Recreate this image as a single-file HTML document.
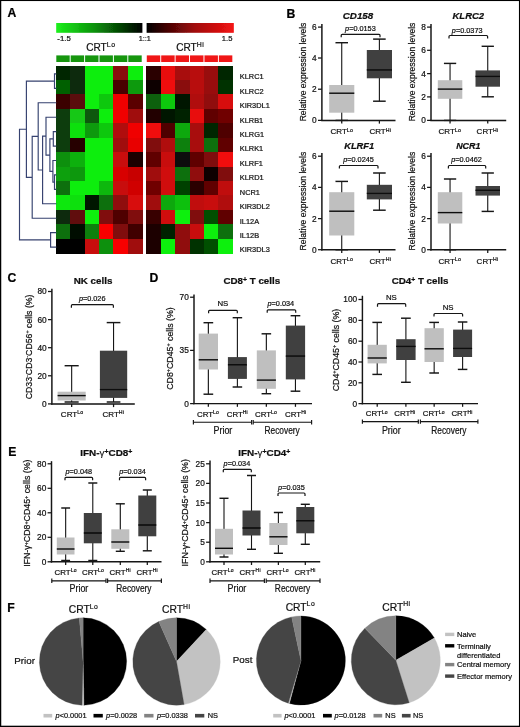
<!DOCTYPE html>
<html><head><meta charset="utf-8"><title>Figure</title>
<style>html,body{margin:0;padding:0;background:#fff;}body{width:520px;height:727px;overflow:hidden;font-family:"Liberation Sans",sans-serif;}svg{display:block;font-family:"Liberation Sans",sans-serif;}</style>
</head><body>
<svg width="520" height="727" viewBox="0 0 520 727">
<defs>
<linearGradient id="gG" x1="0" x2="1" y1="0" y2="0"><stop offset="0" stop-color="#1cf01c"/><stop offset="0.45" stop-color="#0a900a"/><stop offset="1" stop-color="#000"/></linearGradient>
<linearGradient id="gR" x1="0" x2="1" y1="0" y2="0"><stop offset="0" stop-color="#000"/><stop offset="0.55" stop-color="#a00a0a"/><stop offset="1" stop-color="#f41414"/></linearGradient>
<filter id="soft" x="-2%" y="-2%" width="104%" height="104%"><feGaussianBlur stdDeviation="0.45"/></filter>
<filter id="soft2" x="0" y="0" width="100%" height="100%" filterUnits="userSpaceOnUse"><feGaussianBlur stdDeviation="0.32"/></filter>
</defs>
<rect x="0.00" y="0.00" width="520.00" height="727.00" fill="#ffffff"/>
<g filter="url(#soft2)">
<text transform="translate(7.60,17.20)" font-size="12.2" text-anchor="start" font-weight="bold" font-style="normal" fill="#000" stroke="#000" stroke-width="0.22" >A</text>
<text transform="translate(286.60,17.60)" font-size="12.2" text-anchor="start" font-weight="bold" font-style="normal" fill="#000" stroke="#000" stroke-width="0.22" >B</text>
<text transform="translate(7.40,281.60)" font-size="12.2" text-anchor="start" font-weight="bold" font-style="normal" fill="#000" stroke="#000" stroke-width="0.22" >C</text>
<text transform="translate(149.40,281.80)" font-size="12.2" text-anchor="start" font-weight="bold" font-style="normal" fill="#000" stroke="#000" stroke-width="0.22" >D</text>
<text transform="translate(8.30,455.80)" font-size="12.2" text-anchor="start" font-weight="bold" font-style="normal" fill="#000" stroke="#000" stroke-width="0.22" >E</text>
<text transform="translate(7.20,612.40)" font-size="12.2" text-anchor="start" font-weight="bold" font-style="normal" fill="#000" stroke="#000" stroke-width="0.22" >F</text>
<g shape-rendering="crispEdges" filter="url(#soft)">
<rect x="55.80" y="65.60" width="14.70" height="14.73" fill="#062806"/>
<rect x="70.20" y="65.60" width="14.70" height="14.73" fill="#0a2a0a"/>
<rect x="84.60" y="65.60" width="14.70" height="14.73" fill="#08ee08"/>
<rect x="99.00" y="65.60" width="14.70" height="14.73" fill="#0cee0c"/>
<rect x="113.40" y="65.60" width="14.70" height="14.73" fill="#8a0a0a"/>
<rect x="127.80" y="65.60" width="14.70" height="14.73" fill="#08ee08"/>
<rect x="55.80" y="80.03" width="14.70" height="14.73" fill="#066006"/>
<rect x="70.20" y="80.03" width="14.70" height="14.73" fill="#0a2a0a"/>
<rect x="84.60" y="80.03" width="14.70" height="14.73" fill="#08ee08"/>
<rect x="99.00" y="80.03" width="14.70" height="14.73" fill="#0cee0c"/>
<rect x="113.40" y="80.03" width="14.70" height="14.73" fill="#4a0505"/>
<rect x="127.80" y="80.03" width="14.70" height="14.73" fill="#0a9a0a"/>
<rect x="55.80" y="94.46" width="14.70" height="14.73" fill="#3a0505"/>
<rect x="70.20" y="94.46" width="14.70" height="14.73" fill="#5a0808"/>
<rect x="84.60" y="94.46" width="14.70" height="14.73" fill="#08ee08"/>
<rect x="99.00" y="94.46" width="14.70" height="14.73" fill="#10c810"/>
<rect x="113.40" y="94.46" width="14.70" height="14.73" fill="#f00404"/>
<rect x="127.80" y="94.46" width="14.70" height="14.73" fill="#5a0505"/>
<rect x="55.80" y="108.89" width="14.70" height="14.73" fill="#0a3c0a"/>
<rect x="70.20" y="108.89" width="14.70" height="14.73" fill="#14c814"/>
<rect x="84.60" y="108.89" width="14.70" height="14.73" fill="#085808"/>
<rect x="99.00" y="108.89" width="14.70" height="14.73" fill="#08ee08"/>
<rect x="113.40" y="108.89" width="14.70" height="14.73" fill="#f00404"/>
<rect x="127.80" y="108.89" width="14.70" height="14.73" fill="#a00a0a"/>
<rect x="55.80" y="123.32" width="14.70" height="14.73" fill="#0a3c0a"/>
<rect x="70.20" y="123.32" width="14.70" height="14.73" fill="#10e010"/>
<rect x="84.60" y="123.32" width="14.70" height="14.73" fill="#0a9a0a"/>
<rect x="99.00" y="123.32" width="14.70" height="14.73" fill="#10c810"/>
<rect x="113.40" y="123.32" width="14.70" height="14.73" fill="#b00a0a"/>
<rect x="127.80" y="123.32" width="14.70" height="14.73" fill="#f00404"/>
<rect x="55.80" y="137.75" width="14.70" height="14.73" fill="#0a3c0a"/>
<rect x="70.20" y="137.75" width="14.70" height="14.73" fill="#280505"/>
<rect x="84.60" y="137.75" width="14.70" height="14.73" fill="#08ee08"/>
<rect x="99.00" y="137.75" width="14.70" height="14.73" fill="#08ee08"/>
<rect x="113.40" y="137.75" width="14.70" height="14.73" fill="#a00808"/>
<rect x="127.80" y="137.75" width="14.70" height="14.73" fill="#e80404"/>
<rect x="55.80" y="152.18" width="14.70" height="14.73" fill="#0a900a"/>
<rect x="70.20" y="152.18" width="14.70" height="14.73" fill="#10b010"/>
<rect x="84.60" y="152.18" width="14.70" height="14.73" fill="#08ee08"/>
<rect x="99.00" y="152.18" width="14.70" height="14.73" fill="#08ee08"/>
<rect x="113.40" y="152.18" width="14.70" height="14.73" fill="#c80808"/>
<rect x="127.80" y="152.18" width="14.70" height="14.73" fill="#1a0505"/>
<rect x="55.80" y="166.62" width="14.70" height="14.73" fill="#0aa00a"/>
<rect x="70.20" y="166.62" width="14.70" height="14.73" fill="#0a980a"/>
<rect x="84.60" y="166.62" width="14.70" height="14.73" fill="#08ee08"/>
<rect x="99.00" y="166.62" width="14.70" height="14.73" fill="#08ee08"/>
<rect x="113.40" y="166.62" width="14.70" height="14.73" fill="#d80404"/>
<rect x="127.80" y="166.62" width="14.70" height="14.73" fill="#c80404"/>
<rect x="55.80" y="181.05" width="14.70" height="14.73" fill="#0a700a"/>
<rect x="70.20" y="181.05" width="14.70" height="14.73" fill="#08ee08"/>
<rect x="84.60" y="181.05" width="14.70" height="14.73" fill="#08ee08"/>
<rect x="99.00" y="181.05" width="14.70" height="14.73" fill="#10b810"/>
<rect x="113.40" y="181.05" width="14.70" height="14.73" fill="#c80808"/>
<rect x="127.80" y="181.05" width="14.70" height="14.73" fill="#d00404"/>
<rect x="55.80" y="195.48" width="14.70" height="14.73" fill="#08e808"/>
<rect x="70.20" y="195.48" width="14.70" height="14.73" fill="#08e008"/>
<rect x="84.60" y="195.48" width="14.70" height="14.73" fill="#051405"/>
<rect x="99.00" y="195.48" width="14.70" height="14.73" fill="#0a700a"/>
<rect x="113.40" y="195.48" width="14.70" height="14.73" fill="#900808"/>
<rect x="127.80" y="195.48" width="14.70" height="14.73" fill="#d80808"/>
<rect x="55.80" y="209.91" width="14.70" height="14.73" fill="#0a2a0a"/>
<rect x="70.20" y="209.91" width="14.70" height="14.73" fill="#600808"/>
<rect x="84.60" y="209.91" width="14.70" height="14.73" fill="#08f008"/>
<rect x="99.00" y="209.91" width="14.70" height="14.73" fill="#800808"/>
<rect x="113.40" y="209.91" width="14.70" height="14.73" fill="#500505"/>
<rect x="127.80" y="209.91" width="14.70" height="14.73" fill="#800808"/>
<rect x="55.80" y="224.34" width="14.70" height="14.73" fill="#0a700a"/>
<rect x="70.20" y="224.34" width="14.70" height="14.73" fill="#031003"/>
<rect x="84.60" y="224.34" width="14.70" height="14.73" fill="#0a800a"/>
<rect x="99.00" y="224.34" width="14.70" height="14.73" fill="#f80404"/>
<rect x="113.40" y="224.34" width="14.70" height="14.73" fill="#800808"/>
<rect x="127.80" y="224.34" width="14.70" height="14.73" fill="#400505"/>
<rect x="55.80" y="238.77" width="14.70" height="14.73" fill="#020202"/>
<rect x="70.20" y="238.77" width="14.70" height="14.73" fill="#020202"/>
<rect x="84.60" y="238.77" width="14.70" height="14.73" fill="#c80808"/>
<rect x="99.00" y="238.77" width="14.70" height="14.73" fill="#0a900a"/>
<rect x="113.40" y="238.77" width="14.70" height="14.73" fill="#f80404"/>
<rect x="127.80" y="238.77" width="14.70" height="14.73" fill="#a00808"/>
<rect x="146.30" y="65.60" width="14.72" height="14.73" fill="#2a0303"/>
<rect x="160.72" y="65.60" width="14.72" height="14.73" fill="#e80808"/>
<rect x="175.13" y="65.60" width="14.72" height="14.73" fill="#a80808"/>
<rect x="189.55" y="65.60" width="14.72" height="14.73" fill="#b80808"/>
<rect x="203.97" y="65.60" width="14.72" height="14.73" fill="#980808"/>
<rect x="218.38" y="65.60" width="14.72" height="14.73" fill="#062806"/>
<rect x="146.30" y="80.03" width="14.72" height="14.73" fill="#100202"/>
<rect x="160.72" y="80.03" width="14.72" height="14.73" fill="#f00808"/>
<rect x="175.13" y="80.03" width="14.72" height="14.73" fill="#8a0808"/>
<rect x="189.55" y="80.03" width="14.72" height="14.73" fill="#b80808"/>
<rect x="203.97" y="80.03" width="14.72" height="14.73" fill="#980808"/>
<rect x="218.38" y="80.03" width="14.72" height="14.73" fill="#063006"/>
<rect x="146.30" y="94.46" width="14.72" height="14.73" fill="#086008"/>
<rect x="160.72" y="94.46" width="14.72" height="14.73" fill="#08c808"/>
<rect x="175.13" y="94.46" width="14.72" height="14.73" fill="#031803"/>
<rect x="189.55" y="94.46" width="14.72" height="14.73" fill="#b00808"/>
<rect x="203.97" y="94.46" width="14.72" height="14.73" fill="#900808"/>
<rect x="218.38" y="94.46" width="14.72" height="14.73" fill="#d80808"/>
<rect x="146.30" y="108.89" width="14.72" height="14.73" fill="#200303"/>
<rect x="160.72" y="108.89" width="14.72" height="14.73" fill="#031803"/>
<rect x="175.13" y="108.89" width="14.72" height="14.73" fill="#052005"/>
<rect x="189.55" y="108.89" width="14.72" height="14.73" fill="#e80808"/>
<rect x="203.97" y="108.89" width="14.72" height="14.73" fill="#600505"/>
<rect x="218.38" y="108.89" width="14.72" height="14.73" fill="#700505"/>
<rect x="146.30" y="123.32" width="14.72" height="14.73" fill="#f00808"/>
<rect x="160.72" y="123.32" width="14.72" height="14.73" fill="#500505"/>
<rect x="175.13" y="123.32" width="14.72" height="14.73" fill="#08a808"/>
<rect x="189.55" y="123.32" width="14.72" height="14.73" fill="#a80808"/>
<rect x="203.97" y="123.32" width="14.72" height="14.73" fill="#052805"/>
<rect x="218.38" y="123.32" width="14.72" height="14.73" fill="#500505"/>
<rect x="146.30" y="137.75" width="14.72" height="14.73" fill="#800808"/>
<rect x="160.72" y="137.75" width="14.72" height="14.73" fill="#b00808"/>
<rect x="175.13" y="137.75" width="14.72" height="14.73" fill="#088008"/>
<rect x="189.55" y="137.75" width="14.72" height="14.73" fill="#a80808"/>
<rect x="203.97" y="137.75" width="14.72" height="14.73" fill="#087008"/>
<rect x="218.38" y="137.75" width="14.72" height="14.73" fill="#600505"/>
<rect x="146.30" y="152.18" width="14.72" height="14.73" fill="#600505"/>
<rect x="160.72" y="152.18" width="14.72" height="14.73" fill="#c80808"/>
<rect x="175.13" y="152.18" width="14.72" height="14.73" fill="#080808"/>
<rect x="189.55" y="152.18" width="14.72" height="14.73" fill="#600505"/>
<rect x="203.97" y="152.18" width="14.72" height="14.73" fill="#800808"/>
<rect x="218.38" y="152.18" width="14.72" height="14.73" fill="#f00808"/>
<rect x="146.30" y="166.62" width="14.72" height="14.73" fill="#a00808"/>
<rect x="160.72" y="166.62" width="14.72" height="14.73" fill="#d00808"/>
<rect x="175.13" y="166.62" width="14.72" height="14.73" fill="#087008"/>
<rect x="189.55" y="166.62" width="14.72" height="14.73" fill="#900808"/>
<rect x="203.97" y="166.62" width="14.72" height="14.73" fill="#0a0303"/>
<rect x="218.38" y="166.62" width="14.72" height="14.73" fill="#800808"/>
<rect x="146.30" y="181.05" width="14.72" height="14.73" fill="#700505"/>
<rect x="160.72" y="181.05" width="14.72" height="14.73" fill="#d00808"/>
<rect x="175.13" y="181.05" width="14.72" height="14.73" fill="#064006"/>
<rect x="189.55" y="181.05" width="14.72" height="14.73" fill="#2a0303"/>
<rect x="203.97" y="181.05" width="14.72" height="14.73" fill="#600505"/>
<rect x="218.38" y="181.05" width="14.72" height="14.73" fill="#c00808"/>
<rect x="146.30" y="195.48" width="14.72" height="14.73" fill="#a00808"/>
<rect x="160.72" y="195.48" width="14.72" height="14.73" fill="#08a808"/>
<rect x="175.13" y="195.48" width="14.72" height="14.73" fill="#08c008"/>
<rect x="189.55" y="195.48" width="14.72" height="14.73" fill="#c00808"/>
<rect x="203.97" y="195.48" width="14.72" height="14.73" fill="#c80808"/>
<rect x="218.38" y="195.48" width="14.72" height="14.73" fill="#b00808"/>
<rect x="146.30" y="209.91" width="14.72" height="14.73" fill="#380303"/>
<rect x="160.72" y="209.91" width="14.72" height="14.73" fill="#d00808"/>
<rect x="175.13" y="209.91" width="14.72" height="14.73" fill="#08f008"/>
<rect x="189.55" y="209.91" width="14.72" height="14.73" fill="#800808"/>
<rect x="203.97" y="209.91" width="14.72" height="14.73" fill="#065006"/>
<rect x="218.38" y="209.91" width="14.72" height="14.73" fill="#600505"/>
<rect x="146.30" y="224.34" width="14.72" height="14.73" fill="#1c0202"/>
<rect x="160.72" y="224.34" width="14.72" height="14.73" fill="#052005"/>
<rect x="175.13" y="224.34" width="14.72" height="14.73" fill="#900808"/>
<rect x="189.55" y="224.34" width="14.72" height="14.73" fill="#c80808"/>
<rect x="203.97" y="224.34" width="14.72" height="14.73" fill="#08f008"/>
<rect x="218.38" y="224.34" width="14.72" height="14.73" fill="#087008"/>
<rect x="146.30" y="238.77" width="14.72" height="14.73" fill="#1c0202"/>
<rect x="160.72" y="238.77" width="14.72" height="14.73" fill="#08f008"/>
<rect x="175.13" y="238.77" width="14.72" height="14.73" fill="#900808"/>
<rect x="189.55" y="238.77" width="14.72" height="14.73" fill="#063006"/>
<rect x="203.97" y="238.77" width="14.72" height="14.73" fill="#065006"/>
<rect x="218.38" y="238.77" width="14.72" height="14.73" fill="#08f008"/>
</g>
<rect x="56.20" y="23.00" width="86.20" height="9.80" fill="url(#gG)"/>
<rect x="146.60" y="23.00" width="87.20" height="9.80" fill="url(#gR)"/>
<rect x="56.30" y="55.40" width="13.40" height="6.60" fill="#12960f"/>
<rect x="146.80" y="55.40" width="13.42" height="6.60" fill="#f01212"/>
<rect x="70.70" y="55.40" width="13.40" height="6.60" fill="#12960f"/>
<rect x="161.22" y="55.40" width="13.42" height="6.60" fill="#f01212"/>
<rect x="85.10" y="55.40" width="13.40" height="6.60" fill="#12960f"/>
<rect x="175.63" y="55.40" width="13.42" height="6.60" fill="#f01212"/>
<rect x="99.50" y="55.40" width="13.40" height="6.60" fill="#12960f"/>
<rect x="190.05" y="55.40" width="13.42" height="6.60" fill="#f01212"/>
<rect x="113.90" y="55.40" width="13.40" height="6.60" fill="#12960f"/>
<rect x="204.47" y="55.40" width="13.42" height="6.60" fill="#f01212"/>
<rect x="128.30" y="55.40" width="13.40" height="6.60" fill="#12960f"/>
<rect x="218.88" y="55.40" width="13.42" height="6.60" fill="#f01212"/>
<text transform="translate(57.30,40.50)" font-size="7.8" text-anchor="start" font-weight="normal" font-style="normal" fill="#141414" stroke="#141414" stroke-width="0.22" >-1.5</text>
<text transform="translate(144.70,40.50)" font-size="7.2" text-anchor="middle" font-weight="normal" font-style="normal" fill="#141414" stroke="#141414" stroke-width="0.22" >1::1</text>
<text transform="translate(232.40,40.50)" font-size="7.6" text-anchor="end" font-weight="normal" font-style="normal" fill="#141414" stroke="#141414" stroke-width="0.22" >1.5</text>
<text transform="translate(100.90,51.00)" font-size="10.1" text-anchor="middle" font-weight="normal" font-style="normal" fill="#141414" stroke="#141414" stroke-width="0.22" >CRT<tspan font-size="6.9" dy="-4.04" letter-spacing="0.6">Lo</tspan></text>
<text transform="translate(190.30,51.00)" font-size="10.1" text-anchor="middle" font-weight="normal" font-style="normal" fill="#141414" stroke="#141414" stroke-width="0.22" >CRT<tspan font-size="6.9" dy="-4.04" letter-spacing="0.6">Hi</tspan></text>
<text transform="translate(239.80,79.30)" font-size="7.4" text-anchor="start" font-weight="normal" font-style="normal" fill="#141414" stroke="#141414" stroke-width="0.22" >KLRC1</text>
<text transform="translate(239.80,93.73)" font-size="7.4" text-anchor="start" font-weight="normal" font-style="normal" fill="#141414" stroke="#141414" stroke-width="0.22" >KLRC2</text>
<text transform="translate(239.80,108.16)" font-size="7.4" text-anchor="start" font-weight="normal" font-style="normal" fill="#141414" stroke="#141414" stroke-width="0.22" >KIR3DL1</text>
<text transform="translate(239.80,122.59)" font-size="7.4" text-anchor="start" font-weight="normal" font-style="normal" fill="#141414" stroke="#141414" stroke-width="0.22" >KLRB1</text>
<text transform="translate(239.80,137.02)" font-size="7.4" text-anchor="start" font-weight="normal" font-style="normal" fill="#141414" stroke="#141414" stroke-width="0.22" >KLRG1</text>
<text transform="translate(239.80,151.45)" font-size="7.4" text-anchor="start" font-weight="normal" font-style="normal" fill="#141414" stroke="#141414" stroke-width="0.22" >KLRK1</text>
<text transform="translate(239.80,165.88)" font-size="7.4" text-anchor="start" font-weight="normal" font-style="normal" fill="#141414" stroke="#141414" stroke-width="0.22" >KLRF1</text>
<text transform="translate(239.80,180.32)" font-size="7.4" text-anchor="start" font-weight="normal" font-style="normal" fill="#141414" stroke="#141414" stroke-width="0.22" >KLRD1</text>
<text transform="translate(239.80,194.75)" font-size="7.4" text-anchor="start" font-weight="normal" font-style="normal" fill="#141414" stroke="#141414" stroke-width="0.22" >NCR1</text>
<text transform="translate(239.80,209.18)" font-size="7.4" text-anchor="start" font-weight="normal" font-style="normal" fill="#141414" stroke="#141414" stroke-width="0.22" >KIR3DL2</text>
<text transform="translate(239.80,223.61)" font-size="7.4" text-anchor="start" font-weight="normal" font-style="normal" fill="#141414" stroke="#141414" stroke-width="0.22" >IL12A</text>
<text transform="translate(239.80,238.04)" font-size="7.4" text-anchor="start" font-weight="normal" font-style="normal" fill="#141414" stroke="#141414" stroke-width="0.22" >IL12B</text>
<text transform="translate(239.80,252.47)" font-size="7.4" text-anchor="start" font-weight="normal" font-style="normal" fill="#141414" stroke="#141414" stroke-width="0.22" >KIR3DL3</text>
<path d="M54.50 73.92L54.50 88.35 M54.50 73.92L55.80 73.92 M54.50 88.35L55.80 88.35 M26.40 81.13L54.50 81.13 M53.30 131.64L53.30 146.07 M53.30 131.64L55.80 131.64 M53.30 146.07L55.80 146.07 M54.50 174.93L54.50 189.36 M54.50 174.93L55.80 174.93 M54.50 189.36L55.80 189.36 M52.90 160.50L52.90 182.15 M52.90 160.50L55.80 160.50 M52.90 182.15L54.50 182.15 M49.90 138.85L49.90 171.32 M49.90 138.85L53.30 138.85 M49.90 171.32L52.90 171.32 M46.00 117.21L46.00 155.09 M46.00 117.21L55.80 117.21 M46.00 155.09L49.90 155.09 M42.60 136.15L42.60 203.79 M42.60 136.15L46.00 136.15 M42.60 203.79L55.80 203.79 M38.20 102.78L38.20 169.97 M38.20 102.78L55.80 102.78 M38.20 169.97L42.60 169.97 M32.20 136.37L32.20 218.22 M32.20 136.37L38.20 136.37 M32.20 218.22L55.80 218.22 M26.40 81.13L26.40 177.30 M26.40 177.30L32.20 177.30 M50.60 232.65L50.60 247.08 M50.60 232.65L55.80 232.65 M50.60 247.08L55.80 247.08 M19.50 129.21L19.50 239.87 M19.50 129.21L26.40 129.21 M19.50 239.87L50.60 239.87" stroke="#36426f" stroke-width="1.15" fill="none" stroke-linecap="square"/>
<text transform="translate(358.00,18.90) scale(1.05,1)" font-size="9.3" text-anchor="middle" font-weight="bold" font-style="italic" fill="#111" stroke="#111" stroke-width="0.22" >CD158</text>
<line x1="321.90" y1="24.00" x2="321.90" y2="121.12" stroke="#141414" stroke-width="1.45" stroke-linecap="butt"/>
<line x1="321.17" y1="120.40" x2="395.50" y2="120.40" stroke="#141414" stroke-width="1.45" stroke-linecap="butt"/>
<line x1="317.97" y1="27.10" x2="321.90" y2="27.10" stroke="#141414" stroke-width="1.25" stroke-linecap="butt"/>
<text transform="translate(316.70,30.09)" font-size="8.3" text-anchor="end" font-weight="normal" font-style="normal" fill="#141414" stroke="#141414" stroke-width="0.22" >6</text>
<line x1="317.97" y1="58.00" x2="321.90" y2="58.00" stroke="#141414" stroke-width="1.25" stroke-linecap="butt"/>
<text transform="translate(316.70,60.99)" font-size="8.3" text-anchor="end" font-weight="normal" font-style="normal" fill="#141414" stroke="#141414" stroke-width="0.22" >4</text>
<line x1="317.97" y1="89.20" x2="321.90" y2="89.20" stroke="#141414" stroke-width="1.25" stroke-linecap="butt"/>
<text transform="translate(316.70,92.19)" font-size="8.3" text-anchor="end" font-weight="normal" font-style="normal" fill="#141414" stroke="#141414" stroke-width="0.22" >2</text>
<line x1="317.97" y1="120.40" x2="321.90" y2="120.40" stroke="#141414" stroke-width="1.25" stroke-linecap="butt"/>
<text transform="translate(316.70,123.39)" font-size="8.3" text-anchor="end" font-weight="normal" font-style="normal" fill="#141414" stroke="#141414" stroke-width="0.22" >0</text>
<text transform="translate(305.50,72.00) rotate(-90) scale(0.872,1)" font-size="9.8" text-anchor="middle" font-weight="normal" font-style="normal" fill="#141414" stroke="#141414" stroke-width="0.22" >Relative expression levels</text>
<line x1="341.75" y1="120.40" x2="341.75" y2="123.60" stroke="#141414" stroke-width="1.25" stroke-linecap="butt"/>
<line x1="379.40" y1="120.40" x2="379.40" y2="123.60" stroke="#141414" stroke-width="1.25" stroke-linecap="butt"/>
<line x1="341.75" y1="42.70" x2="341.75" y2="120.40" stroke="#141414" stroke-width="1.1" stroke-linecap="butt"/>
<line x1="335.48" y1="42.70" x2="348.02" y2="42.70" stroke="#141414" stroke-width="1.4500000000000002" stroke-linecap="butt"/>
<line x1="335.48" y1="120.40" x2="348.02" y2="120.40" stroke="#141414" stroke-width="1.4500000000000002" stroke-linecap="butt"/>
<rect x="329.20" y="85.00" width="25.10" height="27.70" fill="#bfbfbf"/>
<line x1="329.20" y1="93.20" x2="354.30" y2="93.20" stroke="#0a0a0a" stroke-width="1.4" stroke-linecap="butt"/>
<line x1="379.40" y1="39.10" x2="379.40" y2="101.20" stroke="#141414" stroke-width="1.1" stroke-linecap="butt"/>
<line x1="373.10" y1="39.10" x2="385.70" y2="39.10" stroke="#141414" stroke-width="1.4500000000000002" stroke-linecap="butt"/>
<line x1="373.10" y1="101.20" x2="385.70" y2="101.20" stroke="#141414" stroke-width="1.4500000000000002" stroke-linecap="butt"/>
<rect x="366.80" y="50.00" width="25.20" height="28.30" fill="#404040"/>
<line x1="366.80" y1="69.90" x2="392.00" y2="69.90" stroke="#0a0a0a" stroke-width="1.4" stroke-linecap="butt"/>
<path d="M341.20 37.30 L341.20 35.30 Q341.20 34.30 342.20 34.30 L379.00 34.30 Q380.00 34.30 380.00 35.30 L380.00 37.30" stroke="#141414" stroke-width="1.2" fill="none" stroke-linejoin="miter"/>
<text transform="translate(360.40,31.40)" font-size="7.3" text-anchor="middle" font-weight="normal" font-style="normal" fill="#141414" stroke="#141414" stroke-width="0.22" ><tspan font-style="italic">p</tspan>=0.0153</text>
<text transform="translate(341.80,134.00)" font-size="8.0" text-anchor="middle" font-weight="normal" font-style="normal" fill="#141414" stroke="#141414" stroke-width="0.22" >CRT<tspan font-size="5.2" dy="-2.40" letter-spacing="0.3">Lo</tspan></text>
<text transform="translate(380.30,134.00)" font-size="8.0" text-anchor="middle" font-weight="normal" font-style="normal" fill="#141414" stroke="#141414" stroke-width="0.22" >CRT<tspan font-size="5.2" dy="-2.40" letter-spacing="0.3">Hi</tspan></text>
<text transform="translate(468.30,18.90) scale(1.02,1)" font-size="9.3" text-anchor="middle" font-weight="bold" font-style="italic" fill="#111" stroke="#111" stroke-width="0.22" >KLRC2</text>
<line x1="431.00" y1="24.00" x2="431.00" y2="121.12" stroke="#141414" stroke-width="1.45" stroke-linecap="butt"/>
<line x1="430.27" y1="120.40" x2="506.20" y2="120.40" stroke="#141414" stroke-width="1.45" stroke-linecap="butt"/>
<line x1="427.07" y1="27.10" x2="431.00" y2="27.10" stroke="#141414" stroke-width="1.25" stroke-linecap="butt"/>
<text transform="translate(425.80,30.09)" font-size="8.3" text-anchor="end" font-weight="normal" font-style="normal" fill="#141414" stroke="#141414" stroke-width="0.22" >8</text>
<line x1="427.07" y1="50.30" x2="431.00" y2="50.30" stroke="#141414" stroke-width="1.25" stroke-linecap="butt"/>
<text transform="translate(425.80,53.29)" font-size="8.3" text-anchor="end" font-weight="normal" font-style="normal" fill="#141414" stroke="#141414" stroke-width="0.22" >6</text>
<line x1="427.07" y1="73.60" x2="431.00" y2="73.60" stroke="#141414" stroke-width="1.25" stroke-linecap="butt"/>
<text transform="translate(425.80,76.59)" font-size="8.3" text-anchor="end" font-weight="normal" font-style="normal" fill="#141414" stroke="#141414" stroke-width="0.22" >4</text>
<line x1="427.07" y1="96.90" x2="431.00" y2="96.90" stroke="#141414" stroke-width="1.25" stroke-linecap="butt"/>
<text transform="translate(425.80,99.89)" font-size="8.3" text-anchor="end" font-weight="normal" font-style="normal" fill="#141414" stroke="#141414" stroke-width="0.22" >2</text>
<line x1="427.07" y1="120.40" x2="431.00" y2="120.40" stroke="#141414" stroke-width="1.25" stroke-linecap="butt"/>
<text transform="translate(425.80,123.39)" font-size="8.3" text-anchor="end" font-weight="normal" font-style="normal" fill="#141414" stroke="#141414" stroke-width="0.22" >0</text>
<text transform="translate(414.80,72.00) rotate(-90) scale(0.872,1)" font-size="9.8" text-anchor="middle" font-weight="normal" font-style="normal" fill="#141414" stroke="#141414" stroke-width="0.22" >Relative expression levels</text>
<line x1="450.05" y1="120.40" x2="450.05" y2="123.60" stroke="#141414" stroke-width="1.25" stroke-linecap="butt"/>
<line x1="487.75" y1="120.40" x2="487.75" y2="123.60" stroke="#141414" stroke-width="1.25" stroke-linecap="butt"/>
<line x1="450.05" y1="63.40" x2="450.05" y2="120.40" stroke="#141414" stroke-width="1.1" stroke-linecap="butt"/>
<line x1="443.93" y1="63.40" x2="456.18" y2="63.40" stroke="#141414" stroke-width="1.4500000000000002" stroke-linecap="butt"/>
<line x1="443.93" y1="120.40" x2="456.18" y2="120.40" stroke="#141414" stroke-width="1.4500000000000002" stroke-linecap="butt"/>
<rect x="437.80" y="80.20" width="24.50" height="18.60" fill="#bfbfbf"/>
<line x1="437.80" y1="89.10" x2="462.30" y2="89.10" stroke="#0a0a0a" stroke-width="1.4" stroke-linecap="butt"/>
<line x1="487.75" y1="46.30" x2="487.75" y2="96.80" stroke="#141414" stroke-width="1.1" stroke-linecap="butt"/>
<line x1="481.62" y1="46.30" x2="493.88" y2="46.30" stroke="#141414" stroke-width="1.4500000000000002" stroke-linecap="butt"/>
<line x1="481.62" y1="96.80" x2="493.88" y2="96.80" stroke="#141414" stroke-width="1.4500000000000002" stroke-linecap="butt"/>
<rect x="475.50" y="70.40" width="24.50" height="16.30" fill="#404040"/>
<line x1="475.50" y1="76.40" x2="500.00" y2="76.40" stroke="#0a0a0a" stroke-width="1.4" stroke-linecap="butt"/>
<path d="M449.00 38.50 L449.00 36.50 Q449.00 35.50 450.00 35.50 L486.60 35.50 Q487.60 35.50 487.60 36.50 L487.60 38.50" stroke="#141414" stroke-width="1.2" fill="none" stroke-linejoin="miter"/>
<text transform="translate(467.20,32.50)" font-size="7.3" text-anchor="middle" font-weight="normal" font-style="normal" fill="#141414" stroke="#141414" stroke-width="0.22" ><tspan font-style="italic">p</tspan>=0.0373</text>
<text transform="translate(449.80,134.00)" font-size="8.0" text-anchor="middle" font-weight="normal" font-style="normal" fill="#141414" stroke="#141414" stroke-width="0.22" >CRT<tspan font-size="5.2" dy="-2.40" letter-spacing="0.3">Lo</tspan></text>
<text transform="translate(487.50,134.00)" font-size="8.0" text-anchor="middle" font-weight="normal" font-style="normal" fill="#141414" stroke="#141414" stroke-width="0.22" >CRT<tspan font-size="5.2" dy="-2.40" letter-spacing="0.3">Hi</tspan></text>
<text transform="translate(359.20,148.90) scale(1.0,1)" font-size="9.3" text-anchor="middle" font-weight="bold" font-style="italic" fill="#111" stroke="#111" stroke-width="0.22" >KLRF1</text>
<line x1="321.90" y1="153.00" x2="321.90" y2="250.42" stroke="#141414" stroke-width="1.45" stroke-linecap="butt"/>
<line x1="321.17" y1="249.70" x2="395.50" y2="249.70" stroke="#141414" stroke-width="1.45" stroke-linecap="butt"/>
<line x1="317.97" y1="156.20" x2="321.90" y2="156.20" stroke="#141414" stroke-width="1.25" stroke-linecap="butt"/>
<text transform="translate(316.70,159.19)" font-size="8.3" text-anchor="end" font-weight="normal" font-style="normal" fill="#141414" stroke="#141414" stroke-width="0.22" >6</text>
<line x1="317.97" y1="187.40" x2="321.90" y2="187.40" stroke="#141414" stroke-width="1.25" stroke-linecap="butt"/>
<text transform="translate(316.70,190.39)" font-size="8.3" text-anchor="end" font-weight="normal" font-style="normal" fill="#141414" stroke="#141414" stroke-width="0.22" >4</text>
<line x1="317.97" y1="218.60" x2="321.90" y2="218.60" stroke="#141414" stroke-width="1.25" stroke-linecap="butt"/>
<text transform="translate(316.70,221.59)" font-size="8.3" text-anchor="end" font-weight="normal" font-style="normal" fill="#141414" stroke="#141414" stroke-width="0.22" >2</text>
<line x1="317.97" y1="249.70" x2="321.90" y2="249.70" stroke="#141414" stroke-width="1.25" stroke-linecap="butt"/>
<text transform="translate(316.70,252.69)" font-size="8.3" text-anchor="end" font-weight="normal" font-style="normal" fill="#141414" stroke="#141414" stroke-width="0.22" >0</text>
<text transform="translate(305.50,201.15) rotate(-90) scale(0.872,1)" font-size="9.8" text-anchor="middle" font-weight="normal" font-style="normal" fill="#141414" stroke="#141414" stroke-width="0.22" >Relative expression levels</text>
<line x1="341.75" y1="249.70" x2="341.75" y2="252.90" stroke="#141414" stroke-width="1.25" stroke-linecap="butt"/>
<line x1="379.40" y1="249.70" x2="379.40" y2="252.90" stroke="#141414" stroke-width="1.25" stroke-linecap="butt"/>
<line x1="341.75" y1="181.40" x2="341.75" y2="249.70" stroke="#141414" stroke-width="1.1" stroke-linecap="butt"/>
<line x1="335.48" y1="181.40" x2="348.02" y2="181.40" stroke="#141414" stroke-width="1.4500000000000002" stroke-linecap="butt"/>
<line x1="335.48" y1="249.70" x2="348.02" y2="249.70" stroke="#141414" stroke-width="1.4500000000000002" stroke-linecap="butt"/>
<rect x="329.20" y="192.20" width="25.10" height="43.30" fill="#bfbfbf"/>
<line x1="329.20" y1="211.20" x2="354.30" y2="211.20" stroke="#0a0a0a" stroke-width="1.4" stroke-linecap="butt"/>
<line x1="379.40" y1="173.00" x2="379.40" y2="210.20" stroke="#141414" stroke-width="1.1" stroke-linecap="butt"/>
<line x1="373.10" y1="173.00" x2="385.70" y2="173.00" stroke="#141414" stroke-width="1.4500000000000002" stroke-linecap="butt"/>
<line x1="373.10" y1="210.20" x2="385.70" y2="210.20" stroke="#141414" stroke-width="1.4500000000000002" stroke-linecap="butt"/>
<rect x="366.80" y="184.80" width="25.20" height="14.60" fill="#404040"/>
<line x1="366.80" y1="193.40" x2="392.00" y2="193.40" stroke="#0a0a0a" stroke-width="1.4" stroke-linecap="butt"/>
<path d="M339.40 168.50 L339.40 166.50 Q339.40 165.50 340.40 165.50 L377.00 165.50 Q378.00 165.50 378.00 166.50 L378.00 168.50" stroke="#141414" stroke-width="1.2" fill="none" stroke-linejoin="miter"/>
<text transform="translate(358.50,162.30)" font-size="7.3" text-anchor="middle" font-weight="normal" font-style="normal" fill="#141414" stroke="#141414" stroke-width="0.22" ><tspan font-style="italic">p</tspan>=0.0245</text>
<text transform="translate(341.80,263.50)" font-size="8.0" text-anchor="middle" font-weight="normal" font-style="normal" fill="#141414" stroke="#141414" stroke-width="0.22" >CRT<tspan font-size="5.2" dy="-2.40" letter-spacing="0.3">Lo</tspan></text>
<text transform="translate(380.30,263.50)" font-size="8.0" text-anchor="middle" font-weight="normal" font-style="normal" fill="#141414" stroke="#141414" stroke-width="0.22" >CRT<tspan font-size="5.2" dy="-2.40" letter-spacing="0.3">Hi</tspan></text>
<text transform="translate(468.30,148.90) scale(0.96,1)" font-size="9.3" text-anchor="middle" font-weight="bold" font-style="italic" fill="#111" stroke="#111" stroke-width="0.22" >NCR1</text>
<line x1="431.00" y1="153.00" x2="431.00" y2="250.42" stroke="#141414" stroke-width="1.45" stroke-linecap="butt"/>
<line x1="430.27" y1="249.70" x2="506.20" y2="249.70" stroke="#141414" stroke-width="1.45" stroke-linecap="butt"/>
<line x1="427.07" y1="156.20" x2="431.00" y2="156.20" stroke="#141414" stroke-width="1.25" stroke-linecap="butt"/>
<text transform="translate(425.80,159.19)" font-size="8.3" text-anchor="end" font-weight="normal" font-style="normal" fill="#141414" stroke="#141414" stroke-width="0.22" >6</text>
<line x1="427.07" y1="187.40" x2="431.00" y2="187.40" stroke="#141414" stroke-width="1.25" stroke-linecap="butt"/>
<text transform="translate(425.80,190.39)" font-size="8.3" text-anchor="end" font-weight="normal" font-style="normal" fill="#141414" stroke="#141414" stroke-width="0.22" >4</text>
<line x1="427.07" y1="218.60" x2="431.00" y2="218.60" stroke="#141414" stroke-width="1.25" stroke-linecap="butt"/>
<text transform="translate(425.80,221.59)" font-size="8.3" text-anchor="end" font-weight="normal" font-style="normal" fill="#141414" stroke="#141414" stroke-width="0.22" >2</text>
<line x1="427.07" y1="249.70" x2="431.00" y2="249.70" stroke="#141414" stroke-width="1.25" stroke-linecap="butt"/>
<text transform="translate(425.80,252.69)" font-size="8.3" text-anchor="end" font-weight="normal" font-style="normal" fill="#141414" stroke="#141414" stroke-width="0.22" >0</text>
<text transform="translate(414.80,201.15) rotate(-90) scale(0.872,1)" font-size="9.8" text-anchor="middle" font-weight="normal" font-style="normal" fill="#141414" stroke="#141414" stroke-width="0.22" >Relative expression levels</text>
<line x1="450.05" y1="249.70" x2="450.05" y2="252.90" stroke="#141414" stroke-width="1.25" stroke-linecap="butt"/>
<line x1="487.75" y1="249.70" x2="487.75" y2="252.90" stroke="#141414" stroke-width="1.25" stroke-linecap="butt"/>
<line x1="450.05" y1="179.00" x2="450.05" y2="249.70" stroke="#141414" stroke-width="1.1" stroke-linecap="butt"/>
<line x1="443.93" y1="179.00" x2="456.18" y2="179.00" stroke="#141414" stroke-width="1.4500000000000002" stroke-linecap="butt"/>
<line x1="443.93" y1="249.70" x2="456.18" y2="249.70" stroke="#141414" stroke-width="1.4500000000000002" stroke-linecap="butt"/>
<rect x="437.80" y="192.20" width="24.50" height="31.30" fill="#bfbfbf"/>
<line x1="437.80" y1="212.60" x2="462.30" y2="212.60" stroke="#0a0a0a" stroke-width="1.4" stroke-linecap="butt"/>
<line x1="487.75" y1="173.00" x2="487.75" y2="211.40" stroke="#141414" stroke-width="1.1" stroke-linecap="butt"/>
<line x1="481.62" y1="173.00" x2="493.88" y2="173.00" stroke="#141414" stroke-width="1.4500000000000002" stroke-linecap="butt"/>
<line x1="481.62" y1="211.40" x2="493.88" y2="211.40" stroke="#141414" stroke-width="1.4500000000000002" stroke-linecap="butt"/>
<rect x="475.50" y="186.00" width="24.50" height="9.60" fill="#404040"/>
<line x1="475.50" y1="190.30" x2="500.00" y2="190.30" stroke="#0a0a0a" stroke-width="1.4" stroke-linecap="butt"/>
<path d="M448.40 168.50 L448.40 166.50 Q448.40 165.50 449.40 165.50 L484.70 165.50 Q485.70 165.50 485.70 166.50 L485.70 168.50" stroke="#141414" stroke-width="1.2" fill="none" stroke-linejoin="miter"/>
<text transform="translate(466.50,162.30)" font-size="7.3" text-anchor="middle" font-weight="normal" font-style="normal" fill="#141414" stroke="#141414" stroke-width="0.22" ><tspan font-style="italic">p</tspan>=0.0462</text>
<text transform="translate(449.80,263.50)" font-size="8.0" text-anchor="middle" font-weight="normal" font-style="normal" fill="#141414" stroke="#141414" stroke-width="0.22" >CRT<tspan font-size="5.2" dy="-2.40" letter-spacing="0.3">Lo</tspan></text>
<text transform="translate(487.50,263.50)" font-size="8.0" text-anchor="middle" font-weight="normal" font-style="normal" fill="#141414" stroke="#141414" stroke-width="0.22" >CRT<tspan font-size="5.2" dy="-2.40" letter-spacing="0.3">Hi</tspan></text>
<text transform="translate(93.00,284.00)" font-size="9.8" text-anchor="middle" font-weight="bold" font-style="normal" fill="#111" stroke="#111" stroke-width="0.22" >NK cells</text>
<line x1="51.90" y1="288.80" x2="51.90" y2="404.62" stroke="#141414" stroke-width="1.45" stroke-linecap="butt"/>
<line x1="51.17" y1="403.90" x2="134.80" y2="403.90" stroke="#141414" stroke-width="1.45" stroke-linecap="butt"/>
<line x1="47.97" y1="291.50" x2="51.90" y2="291.50" stroke="#141414" stroke-width="1.25" stroke-linecap="butt"/>
<text transform="translate(46.70,294.49)" font-size="8.3" text-anchor="end" font-weight="normal" font-style="normal" fill="#141414" stroke="#141414" stroke-width="0.22" >80</text>
<line x1="47.97" y1="319.60" x2="51.90" y2="319.60" stroke="#141414" stroke-width="1.25" stroke-linecap="butt"/>
<text transform="translate(46.70,322.59)" font-size="8.3" text-anchor="end" font-weight="normal" font-style="normal" fill="#141414" stroke="#141414" stroke-width="0.22" >60</text>
<line x1="47.97" y1="347.70" x2="51.90" y2="347.70" stroke="#141414" stroke-width="1.25" stroke-linecap="butt"/>
<text transform="translate(46.70,350.69)" font-size="8.3" text-anchor="end" font-weight="normal" font-style="normal" fill="#141414" stroke="#141414" stroke-width="0.22" >40</text>
<line x1="47.97" y1="375.80" x2="51.90" y2="375.80" stroke="#141414" stroke-width="1.25" stroke-linecap="butt"/>
<text transform="translate(46.70,378.79)" font-size="8.3" text-anchor="end" font-weight="normal" font-style="normal" fill="#141414" stroke="#141414" stroke-width="0.22" >20</text>
<line x1="47.97" y1="403.90" x2="51.90" y2="403.90" stroke="#141414" stroke-width="1.25" stroke-linecap="butt"/>
<text transform="translate(46.70,406.89)" font-size="8.3" text-anchor="end" font-weight="normal" font-style="normal" fill="#141414" stroke="#141414" stroke-width="0.22" >0</text>
<text transform="translate(31.50,346.90) rotate(-90) scale(1.016,1)" font-size="8.6" text-anchor="middle" font-weight="normal" font-style="normal" fill="#141414" stroke="#141414" stroke-width="0.22" >CD33<tspan font-size="5.33" dy="-2.58">-</tspan><tspan dy="2.58">CD3</tspan><tspan font-size="5.33" dy="-2.58">-</tspan><tspan dy="2.58">CD56</tspan><tspan font-size="5.33" dy="-2.58">+</tspan><tspan dy="2.58"> cells (%)</tspan></text>
<line x1="71.65" y1="403.90" x2="71.65" y2="407.10" stroke="#141414" stroke-width="1.25" stroke-linecap="butt"/>
<line x1="113.55" y1="403.90" x2="113.55" y2="407.10" stroke="#141414" stroke-width="1.25" stroke-linecap="butt"/>
<line x1="71.65" y1="365.70" x2="71.65" y2="402.00" stroke="#141414" stroke-width="1.1" stroke-linecap="butt"/>
<line x1="64.62" y1="365.70" x2="78.68" y2="365.70" stroke="#141414" stroke-width="1.4500000000000002" stroke-linecap="butt"/>
<line x1="64.62" y1="402.00" x2="78.68" y2="402.00" stroke="#141414" stroke-width="1.4500000000000002" stroke-linecap="butt"/>
<rect x="57.60" y="391.70" width="28.10" height="8.80" fill="#bfbfbf"/>
<line x1="57.60" y1="395.60" x2="85.70" y2="395.60" stroke="#0a0a0a" stroke-width="1.4" stroke-linecap="butt"/>
<line x1="113.55" y1="322.60" x2="113.55" y2="402.00" stroke="#141414" stroke-width="1.1" stroke-linecap="butt"/>
<line x1="106.73" y1="322.60" x2="120.38" y2="322.60" stroke="#141414" stroke-width="1.4500000000000002" stroke-linecap="butt"/>
<line x1="106.73" y1="402.00" x2="120.38" y2="402.00" stroke="#141414" stroke-width="1.4500000000000002" stroke-linecap="butt"/>
<rect x="99.90" y="350.70" width="27.30" height="47.20" fill="#404040"/>
<line x1="99.90" y1="389.60" x2="127.20" y2="389.60" stroke="#0a0a0a" stroke-width="1.4" stroke-linecap="butt"/>
<path d="M71.40 307.70 L71.40 305.70 Q71.40 304.70 72.40 304.70 L112.40 304.70 Q113.40 304.70 113.40 305.70 L113.40 307.70" stroke="#141414" stroke-width="1.2" fill="none" stroke-linejoin="miter"/>
<text transform="translate(92.20,300.70)" font-size="7.3" text-anchor="middle" font-weight="normal" font-style="normal" fill="#141414" stroke="#141414" stroke-width="0.22" ><tspan font-style="italic">p</tspan>=0.026</text>
<text transform="translate(72.20,416.60)" font-size="8.0" text-anchor="middle" font-weight="normal" font-style="normal" fill="#141414" stroke="#141414" stroke-width="0.22" >CRT<tspan font-size="5.2" dy="-2.40" letter-spacing="0.3">Lo</tspan></text>
<text transform="translate(113.40,416.60)" font-size="8.0" text-anchor="middle" font-weight="normal" font-style="normal" fill="#141414" stroke="#141414" stroke-width="0.22" >CRT<tspan font-size="5.2" dy="-2.40" letter-spacing="0.3">Hi</tspan></text>
<text transform="translate(251.80,284.20) scale(1.01,1)" font-size="9.7" text-anchor="middle" font-weight="bold" font-style="normal" fill="#111" stroke="#111" stroke-width="0.22" >CD8<tspan font-size="6.79" dy="-1.94">+</tspan><tspan dy="1.94"> T cells</tspan></text>
<line x1="194.00" y1="294.60" x2="194.00" y2="404.33" stroke="#141414" stroke-width="1.45" stroke-linecap="butt"/>
<line x1="193.28" y1="403.60" x2="312.00" y2="403.60" stroke="#141414" stroke-width="1.45" stroke-linecap="butt"/>
<line x1="190.08" y1="297.20" x2="194.00" y2="297.20" stroke="#141414" stroke-width="1.25" stroke-linecap="butt"/>
<text transform="translate(188.80,300.19)" font-size="8.3" text-anchor="end" font-weight="normal" font-style="normal" fill="#141414" stroke="#141414" stroke-width="0.22" >70</text>
<line x1="190.08" y1="350.40" x2="194.00" y2="350.40" stroke="#141414" stroke-width="1.25" stroke-linecap="butt"/>
<text transform="translate(188.80,353.39)" font-size="8.3" text-anchor="end" font-weight="normal" font-style="normal" fill="#141414" stroke="#141414" stroke-width="0.22" >35</text>
<line x1="190.08" y1="403.60" x2="194.00" y2="403.60" stroke="#141414" stroke-width="1.25" stroke-linecap="butt"/>
<text transform="translate(188.80,406.59)" font-size="8.3" text-anchor="end" font-weight="normal" font-style="normal" fill="#141414" stroke="#141414" stroke-width="0.22" >0</text>
<text transform="translate(172.70,348.50) rotate(-90) scale(1.025,1)" font-size="8.6" text-anchor="middle" font-weight="normal" font-style="normal" fill="#141414" stroke="#141414" stroke-width="0.22" >CD8<tspan font-size="5.33" dy="-2.58">+</tspan><tspan dy="2.58">CD45</tspan><tspan font-size="5.33" dy="-2.58">+</tspan><tspan dy="2.58"> cells (%)</tspan></text>
<line x1="208.35" y1="403.60" x2="208.35" y2="406.80" stroke="#141414" stroke-width="1.25" stroke-linecap="butt"/>
<line x1="237.40" y1="403.60" x2="237.40" y2="406.80" stroke="#141414" stroke-width="1.25" stroke-linecap="butt"/>
<line x1="266.35" y1="403.60" x2="266.35" y2="406.80" stroke="#141414" stroke-width="1.25" stroke-linecap="butt"/>
<line x1="295.45" y1="403.60" x2="295.45" y2="406.80" stroke="#141414" stroke-width="1.25" stroke-linecap="butt"/>
<line x1="208.35" y1="322.70" x2="208.35" y2="394.20" stroke="#141414" stroke-width="1.1" stroke-linecap="butt"/>
<line x1="203.52" y1="322.70" x2="213.18" y2="322.70" stroke="#141414" stroke-width="1.4500000000000002" stroke-linecap="butt"/>
<line x1="203.52" y1="394.20" x2="213.18" y2="394.20" stroke="#141414" stroke-width="1.4500000000000002" stroke-linecap="butt"/>
<rect x="198.70" y="333.60" width="19.30" height="35.90" fill="#bfbfbf"/>
<line x1="198.70" y1="359.80" x2="218.00" y2="359.80" stroke="#0a0a0a" stroke-width="1.4" stroke-linecap="butt"/>
<line x1="237.40" y1="317.70" x2="237.40" y2="387.00" stroke="#141414" stroke-width="1.1" stroke-linecap="butt"/>
<line x1="232.65" y1="317.70" x2="242.15" y2="317.70" stroke="#141414" stroke-width="1.4500000000000002" stroke-linecap="butt"/>
<line x1="232.65" y1="387.00" x2="242.15" y2="387.00" stroke="#141414" stroke-width="1.4500000000000002" stroke-linecap="butt"/>
<rect x="227.90" y="357.10" width="19.00" height="21.80" fill="#404040"/>
<line x1="227.90" y1="364.80" x2="246.90" y2="364.80" stroke="#0a0a0a" stroke-width="1.4" stroke-linecap="butt"/>
<line x1="266.35" y1="333.80" x2="266.35" y2="393.70" stroke="#141414" stroke-width="1.1" stroke-linecap="butt"/>
<line x1="261.58" y1="333.80" x2="271.12" y2="333.80" stroke="#141414" stroke-width="1.4500000000000002" stroke-linecap="butt"/>
<line x1="261.58" y1="393.70" x2="271.12" y2="393.70" stroke="#141414" stroke-width="1.4500000000000002" stroke-linecap="butt"/>
<rect x="256.80" y="350.40" width="19.10" height="38.40" fill="#bfbfbf"/>
<line x1="256.80" y1="380.10" x2="275.90" y2="380.10" stroke="#0a0a0a" stroke-width="1.4" stroke-linecap="butt"/>
<line x1="295.45" y1="315.70" x2="295.45" y2="391.20" stroke="#141414" stroke-width="1.1" stroke-linecap="butt"/>
<line x1="290.63" y1="315.70" x2="300.28" y2="315.70" stroke="#141414" stroke-width="1.4500000000000002" stroke-linecap="butt"/>
<line x1="290.63" y1="391.20" x2="300.28" y2="391.20" stroke="#141414" stroke-width="1.4500000000000002" stroke-linecap="butt"/>
<rect x="285.80" y="325.60" width="19.30" height="53.80" fill="#404040"/>
<line x1="285.80" y1="356.10" x2="305.10" y2="356.10" stroke="#0a0a0a" stroke-width="1.4" stroke-linecap="butt"/>
<path d="M208.60 313.30 L208.60 311.30 Q208.60 310.30 209.60 310.30 L236.30 310.30 Q237.30 310.30 237.30 311.30 L237.30 313.30" stroke="#141414" stroke-width="1.2" fill="none" stroke-linejoin="miter"/>
<text transform="translate(222.90,305.90)" font-size="7.8" text-anchor="middle" font-weight="normal" font-style="normal" fill="#141414" stroke="#141414" stroke-width="0.22" >NS</text>
<path d="M267.20 312.80 L267.20 310.80 Q267.20 309.80 268.20 309.80 L294.70 309.80 Q295.70 309.80 295.70 310.80 L295.70 312.80" stroke="#141414" stroke-width="1.2" fill="none" stroke-linejoin="miter"/>
<text transform="translate(280.80,305.90)" font-size="7.3" text-anchor="middle" font-weight="normal" font-style="normal" fill="#141414" stroke="#141414" stroke-width="0.22" ><tspan font-style="italic">p</tspan>=0.034</text>
<text transform="translate(208.00,416.60)" font-size="7.9" text-anchor="middle" font-weight="normal" font-style="normal" fill="#141414" stroke="#141414" stroke-width="0.22" >CRT<tspan font-size="5.0" dy="-2.30" letter-spacing="0.2">Lo</tspan></text>
<text transform="translate(237.30,416.60)" font-size="7.9" text-anchor="middle" font-weight="normal" font-style="normal" fill="#141414" stroke="#141414" stroke-width="0.22" >CRT<tspan font-size="5.0" dy="-2.30" letter-spacing="0.2">Hi</tspan></text>
<text transform="translate(266.00,416.60)" font-size="7.9" text-anchor="middle" font-weight="normal" font-style="normal" fill="#141414" stroke="#141414" stroke-width="0.22" >CRT<tspan font-size="5.0" dy="-2.30" letter-spacing="0.2">Lo</tspan></text>
<text transform="translate(295.70,416.60)" font-size="7.9" text-anchor="middle" font-weight="normal" font-style="normal" fill="#141414" stroke="#141414" stroke-width="0.22" >CRT<tspan font-size="5.0" dy="-2.30" letter-spacing="0.2">Hi</tspan></text>
<line x1="193.40" y1="422.20" x2="251.60" y2="422.20" stroke="#141414" stroke-width="1.15" stroke-linecap="butt"/>
<line x1="193.40" y1="420.00" x2="193.40" y2="424.40" stroke="#141414" stroke-width="1.15" stroke-linecap="butt"/>
<line x1="251.60" y1="420.00" x2="251.60" y2="424.40" stroke="#141414" stroke-width="1.15" stroke-linecap="butt"/>
<line x1="253.20" y1="422.20" x2="311.60" y2="422.20" stroke="#141414" stroke-width="1.15" stroke-linecap="butt"/>
<line x1="253.20" y1="420.00" x2="253.20" y2="424.40" stroke="#141414" stroke-width="1.15" stroke-linecap="butt"/>
<line x1="311.60" y1="420.00" x2="311.60" y2="424.40" stroke="#141414" stroke-width="1.15" stroke-linecap="butt"/>
<text transform="translate(222.90,433.60) scale(0.87,1)" font-size="10.2" text-anchor="middle" font-weight="normal" font-style="normal" fill="#141414" stroke="#141414" stroke-width="0.22" >Prior</text>
<text transform="translate(282.10,433.60) scale(0.82,1)" font-size="10.2" text-anchor="middle" font-weight="normal" font-style="normal" fill="#141414" stroke="#141414" stroke-width="0.22" >Recovery</text>
<text transform="translate(420.00,284.20) scale(1.01,1)" font-size="9.7" text-anchor="middle" font-weight="bold" font-style="normal" fill="#111" stroke="#111" stroke-width="0.22" >CD4<tspan font-size="6.79" dy="-1.94">+</tspan><tspan dy="1.94"> T cells</tspan></text>
<line x1="362.40" y1="295.80" x2="362.40" y2="404.33" stroke="#141414" stroke-width="1.45" stroke-linecap="butt"/>
<line x1="361.67" y1="403.60" x2="478.00" y2="403.60" stroke="#141414" stroke-width="1.45" stroke-linecap="butt"/>
<line x1="358.47" y1="299.50" x2="362.40" y2="299.50" stroke="#141414" stroke-width="1.25" stroke-linecap="butt"/>
<text transform="translate(357.20,302.49)" font-size="8.3" text-anchor="end" font-weight="normal" font-style="normal" fill="#141414" stroke="#141414" stroke-width="0.22" >100</text>
<line x1="358.47" y1="320.40" x2="362.40" y2="320.40" stroke="#141414" stroke-width="1.25" stroke-linecap="butt"/>
<text transform="translate(357.20,323.39)" font-size="8.3" text-anchor="end" font-weight="normal" font-style="normal" fill="#141414" stroke="#141414" stroke-width="0.22" >80</text>
<line x1="358.47" y1="341.20" x2="362.40" y2="341.20" stroke="#141414" stroke-width="1.25" stroke-linecap="butt"/>
<text transform="translate(357.20,344.19)" font-size="8.3" text-anchor="end" font-weight="normal" font-style="normal" fill="#141414" stroke="#141414" stroke-width="0.22" >60</text>
<line x1="358.47" y1="362.00" x2="362.40" y2="362.00" stroke="#141414" stroke-width="1.25" stroke-linecap="butt"/>
<text transform="translate(357.20,364.99)" font-size="8.3" text-anchor="end" font-weight="normal" font-style="normal" fill="#141414" stroke="#141414" stroke-width="0.22" >40</text>
<line x1="358.47" y1="382.80" x2="362.40" y2="382.80" stroke="#141414" stroke-width="1.25" stroke-linecap="butt"/>
<text transform="translate(357.20,385.79)" font-size="8.3" text-anchor="end" font-weight="normal" font-style="normal" fill="#141414" stroke="#141414" stroke-width="0.22" >20</text>
<line x1="358.47" y1="403.60" x2="362.40" y2="403.60" stroke="#141414" stroke-width="1.25" stroke-linecap="butt"/>
<text transform="translate(357.20,406.59)" font-size="8.3" text-anchor="end" font-weight="normal" font-style="normal" fill="#141414" stroke="#141414" stroke-width="0.22" >0</text>
<text transform="translate(338.60,350.00) rotate(-90) scale(1.025,1)" font-size="8.6" text-anchor="middle" font-weight="normal" font-style="normal" fill="#141414" stroke="#141414" stroke-width="0.22" >CD4<tspan font-size="5.33" dy="-2.58">+</tspan><tspan dy="2.58">CD45</tspan><tspan font-size="5.33" dy="-2.58">+</tspan><tspan dy="2.58"> cells (%)</tspan></text>
<line x1="377.20" y1="403.60" x2="377.20" y2="406.80" stroke="#141414" stroke-width="1.25" stroke-linecap="butt"/>
<line x1="405.90" y1="403.60" x2="405.90" y2="406.80" stroke="#141414" stroke-width="1.25" stroke-linecap="butt"/>
<line x1="434.15" y1="403.60" x2="434.15" y2="406.80" stroke="#141414" stroke-width="1.25" stroke-linecap="butt"/>
<line x1="462.60" y1="403.60" x2="462.60" y2="406.80" stroke="#141414" stroke-width="1.25" stroke-linecap="butt"/>
<line x1="377.20" y1="322.40" x2="377.20" y2="374.40" stroke="#141414" stroke-width="1.1" stroke-linecap="butt"/>
<line x1="372.40" y1="322.40" x2="382.00" y2="322.40" stroke="#141414" stroke-width="1.4500000000000002" stroke-linecap="butt"/>
<line x1="372.40" y1="374.40" x2="382.00" y2="374.40" stroke="#141414" stroke-width="1.4500000000000002" stroke-linecap="butt"/>
<rect x="367.60" y="344.80" width="19.20" height="18.60" fill="#bfbfbf"/>
<line x1="367.60" y1="358.00" x2="386.80" y2="358.00" stroke="#0a0a0a" stroke-width="1.4" stroke-linecap="butt"/>
<line x1="405.90" y1="318.20" x2="405.90" y2="382.30" stroke="#141414" stroke-width="1.1" stroke-linecap="butt"/>
<line x1="401.05" y1="318.20" x2="410.75" y2="318.20" stroke="#141414" stroke-width="1.4500000000000002" stroke-linecap="butt"/>
<line x1="401.05" y1="382.30" x2="410.75" y2="382.30" stroke="#141414" stroke-width="1.4500000000000002" stroke-linecap="butt"/>
<rect x="396.20" y="339.20" width="19.40" height="20.80" fill="#404040"/>
<line x1="396.20" y1="346.40" x2="415.60" y2="346.40" stroke="#0a0a0a" stroke-width="1.4" stroke-linecap="butt"/>
<line x1="434.15" y1="322.40" x2="434.15" y2="373.00" stroke="#141414" stroke-width="1.1" stroke-linecap="butt"/>
<line x1="429.32" y1="322.40" x2="438.97" y2="322.40" stroke="#141414" stroke-width="1.4500000000000002" stroke-linecap="butt"/>
<line x1="429.32" y1="373.00" x2="438.97" y2="373.00" stroke="#141414" stroke-width="1.4500000000000002" stroke-linecap="butt"/>
<rect x="424.50" y="328.20" width="19.30" height="33.80" fill="#bfbfbf"/>
<line x1="424.50" y1="348.80" x2="443.80" y2="348.80" stroke="#0a0a0a" stroke-width="1.4" stroke-linecap="butt"/>
<line x1="462.60" y1="322.00" x2="462.60" y2="369.40" stroke="#141414" stroke-width="1.1" stroke-linecap="butt"/>
<line x1="457.85" y1="322.00" x2="467.35" y2="322.00" stroke="#141414" stroke-width="1.4500000000000002" stroke-linecap="butt"/>
<line x1="457.85" y1="369.40" x2="467.35" y2="369.40" stroke="#141414" stroke-width="1.4500000000000002" stroke-linecap="butt"/>
<rect x="453.10" y="329.60" width="19.00" height="27.40" fill="#404040"/>
<line x1="453.10" y1="348.40" x2="472.10" y2="348.40" stroke="#0a0a0a" stroke-width="1.4" stroke-linecap="butt"/>
<path d="M377.50 306.70 L377.50 304.70 Q377.50 303.70 378.50 303.70 L404.70 303.70 Q405.70 303.70 405.70 304.70 L405.70 306.70" stroke="#141414" stroke-width="1.2" fill="none" stroke-linejoin="miter"/>
<text transform="translate(391.40,300.30)" font-size="7.8" text-anchor="middle" font-weight="normal" font-style="normal" fill="#141414" stroke="#141414" stroke-width="0.22" >NS</text>
<path d="M434.00 316.50 L434.00 314.50 Q434.00 313.50 435.00 313.50 L461.60 313.50 Q462.60 313.50 462.60 314.50 L462.60 316.50" stroke="#141414" stroke-width="1.2" fill="none" stroke-linejoin="miter"/>
<text transform="translate(448.10,310.40)" font-size="7.8" text-anchor="middle" font-weight="normal" font-style="normal" fill="#141414" stroke="#141414" stroke-width="0.22" >NS</text>
<text transform="translate(376.70,416.20)" font-size="7.9" text-anchor="middle" font-weight="normal" font-style="normal" fill="#141414" stroke="#141414" stroke-width="0.22" >CRT<tspan font-size="5.0" dy="-2.30" letter-spacing="0.2">Lo</tspan></text>
<text transform="translate(404.80,416.20)" font-size="7.9" text-anchor="middle" font-weight="normal" font-style="normal" fill="#141414" stroke="#141414" stroke-width="0.22" >CRT<tspan font-size="5.0" dy="-2.30" letter-spacing="0.2">Hi</tspan></text>
<text transform="translate(433.80,416.20)" font-size="7.9" text-anchor="middle" font-weight="normal" font-style="normal" fill="#141414" stroke="#141414" stroke-width="0.22" >CRT<tspan font-size="5.0" dy="-2.30" letter-spacing="0.2">Lo</tspan></text>
<text transform="translate(462.00,416.20)" font-size="7.9" text-anchor="middle" font-weight="normal" font-style="normal" fill="#141414" stroke="#141414" stroke-width="0.22" >CRT<tspan font-size="5.0" dy="-2.30" letter-spacing="0.2">Hi</tspan></text>
<line x1="362.40" y1="421.60" x2="418.30" y2="421.60" stroke="#141414" stroke-width="1.15" stroke-linecap="butt"/>
<line x1="362.40" y1="419.40" x2="362.40" y2="423.80" stroke="#141414" stroke-width="1.15" stroke-linecap="butt"/>
<line x1="418.30" y1="419.40" x2="418.30" y2="423.80" stroke="#141414" stroke-width="1.15" stroke-linecap="butt"/>
<line x1="420.40" y1="421.60" x2="477.90" y2="421.60" stroke="#141414" stroke-width="1.15" stroke-linecap="butt"/>
<line x1="420.40" y1="419.40" x2="420.40" y2="423.80" stroke="#141414" stroke-width="1.15" stroke-linecap="butt"/>
<line x1="477.90" y1="419.40" x2="477.90" y2="423.80" stroke="#141414" stroke-width="1.15" stroke-linecap="butt"/>
<text transform="translate(391.30,433.80) scale(0.87,1)" font-size="10.2" text-anchor="middle" font-weight="normal" font-style="normal" fill="#141414" stroke="#141414" stroke-width="0.22" >Prior</text>
<text transform="translate(448.90,433.80) scale(0.82,1)" font-size="10.2" text-anchor="middle" font-weight="normal" font-style="normal" fill="#141414" stroke="#141414" stroke-width="0.22" >Recovery</text>
<text transform="translate(106.30,456.20) scale(1.08,1)" font-size="9.2" text-anchor="middle" font-weight="bold" font-style="normal" fill="#111" stroke="#111" stroke-width="0.22" >IFN-<tspan font-weight="normal" stroke-width="0.1">γ</tspan><tspan font-size="6.44" dy="-1.84">+</tspan><tspan dy="1.84">CD8</tspan><tspan font-size="6.44" dy="-1.84">+</tspan></text>
<line x1="51.50" y1="461.20" x2="51.50" y2="562.52" stroke="#141414" stroke-width="1.45" stroke-linecap="butt"/>
<line x1="50.77" y1="561.80" x2="161.50" y2="561.80" stroke="#141414" stroke-width="1.45" stroke-linecap="butt"/>
<line x1="47.57" y1="463.80" x2="51.50" y2="463.80" stroke="#141414" stroke-width="1.25" stroke-linecap="butt"/>
<text transform="translate(46.30,466.79)" font-size="8.3" text-anchor="end" font-weight="normal" font-style="normal" fill="#141414" stroke="#141414" stroke-width="0.22" >80</text>
<line x1="47.57" y1="488.30" x2="51.50" y2="488.30" stroke="#141414" stroke-width="1.25" stroke-linecap="butt"/>
<text transform="translate(46.30,491.29)" font-size="8.3" text-anchor="end" font-weight="normal" font-style="normal" fill="#141414" stroke="#141414" stroke-width="0.22" >60</text>
<line x1="47.57" y1="512.80" x2="51.50" y2="512.80" stroke="#141414" stroke-width="1.25" stroke-linecap="butt"/>
<text transform="translate(46.30,515.79)" font-size="8.3" text-anchor="end" font-weight="normal" font-style="normal" fill="#141414" stroke="#141414" stroke-width="0.22" >40</text>
<line x1="47.57" y1="537.30" x2="51.50" y2="537.30" stroke="#141414" stroke-width="1.25" stroke-linecap="butt"/>
<text transform="translate(46.30,540.29)" font-size="8.3" text-anchor="end" font-weight="normal" font-style="normal" fill="#141414" stroke="#141414" stroke-width="0.22" >20</text>
<line x1="47.57" y1="561.80" x2="51.50" y2="561.80" stroke="#141414" stroke-width="1.25" stroke-linecap="butt"/>
<text transform="translate(46.30,564.79)" font-size="8.3" text-anchor="end" font-weight="normal" font-style="normal" fill="#141414" stroke="#141414" stroke-width="0.22" >0</text>
<text transform="translate(30.20,513.20) rotate(-90) scale(1.025,1)" font-size="8.6" text-anchor="middle" font-weight="normal" font-style="normal" fill="#141414" stroke="#141414" stroke-width="0.22" >IFN-γ<tspan font-size="5.33" dy="-2.58">+</tspan><tspan dy="2.58">CD8</tspan><tspan font-size="5.33" dy="-2.58">+</tspan><tspan dy="2.58">CD45</tspan><tspan font-size="5.33" dy="-2.58">+</tspan><tspan dy="2.58"> cells (%)</tspan></text>
<line x1="65.65" y1="561.80" x2="65.65" y2="565.00" stroke="#141414" stroke-width="1.25" stroke-linecap="butt"/>
<line x1="92.80" y1="561.80" x2="92.80" y2="565.00" stroke="#141414" stroke-width="1.25" stroke-linecap="butt"/>
<line x1="120.30" y1="561.80" x2="120.30" y2="565.00" stroke="#141414" stroke-width="1.25" stroke-linecap="butt"/>
<line x1="147.30" y1="561.80" x2="147.30" y2="565.00" stroke="#141414" stroke-width="1.25" stroke-linecap="butt"/>
<line x1="65.65" y1="508.00" x2="65.65" y2="560.50" stroke="#141414" stroke-width="1.1" stroke-linecap="butt"/>
<line x1="61.23" y1="508.00" x2="70.08" y2="508.00" stroke="#141414" stroke-width="1.4500000000000002" stroke-linecap="butt"/>
<line x1="61.23" y1="560.50" x2="70.08" y2="560.50" stroke="#141414" stroke-width="1.4500000000000002" stroke-linecap="butt"/>
<rect x="56.80" y="537.50" width="17.70" height="17.00" fill="#bfbfbf"/>
<line x1="56.80" y1="549.00" x2="74.50" y2="549.00" stroke="#0a0a0a" stroke-width="1.4" stroke-linecap="butt"/>
<line x1="92.80" y1="483.00" x2="92.80" y2="560.50" stroke="#141414" stroke-width="1.1" stroke-linecap="butt"/>
<line x1="88.30" y1="483.00" x2="97.30" y2="483.00" stroke="#141414" stroke-width="1.4500000000000002" stroke-linecap="butt"/>
<line x1="88.30" y1="560.50" x2="97.30" y2="560.50" stroke="#141414" stroke-width="1.4500000000000002" stroke-linecap="butt"/>
<rect x="83.80" y="513.00" width="18.00" height="30.30" fill="#404040"/>
<line x1="83.80" y1="533.00" x2="101.80" y2="533.00" stroke="#0a0a0a" stroke-width="1.4" stroke-linecap="butt"/>
<line x1="120.30" y1="503.80" x2="120.30" y2="551.30" stroke="#141414" stroke-width="1.1" stroke-linecap="butt"/>
<line x1="115.80" y1="503.80" x2="124.80" y2="503.80" stroke="#141414" stroke-width="1.4500000000000002" stroke-linecap="butt"/>
<line x1="115.80" y1="551.30" x2="124.80" y2="551.30" stroke="#141414" stroke-width="1.4500000000000002" stroke-linecap="butt"/>
<rect x="111.30" y="529.30" width="18.00" height="19.50" fill="#bfbfbf"/>
<line x1="111.30" y1="542.00" x2="129.30" y2="542.00" stroke="#0a0a0a" stroke-width="1.4" stroke-linecap="butt"/>
<line x1="147.30" y1="490.00" x2="147.30" y2="550.80" stroke="#141414" stroke-width="1.1" stroke-linecap="butt"/>
<line x1="142.80" y1="490.00" x2="151.80" y2="490.00" stroke="#141414" stroke-width="1.4500000000000002" stroke-linecap="butt"/>
<line x1="142.80" y1="550.80" x2="151.80" y2="550.80" stroke="#141414" stroke-width="1.4500000000000002" stroke-linecap="butt"/>
<rect x="138.30" y="495.50" width="18.00" height="40.80" fill="#404040"/>
<line x1="138.30" y1="525.00" x2="156.30" y2="525.00" stroke="#0a0a0a" stroke-width="1.4" stroke-linecap="butt"/>
<path d="M65.00 480.30 L65.00 478.30 Q65.00 477.30 66.00 477.30 L91.60 477.30 Q92.60 477.30 92.60 478.30 L92.60 480.30" stroke="#141414" stroke-width="1.2" fill="none" stroke-linejoin="miter"/>
<text transform="translate(78.80,473.50)" font-size="7.3" text-anchor="middle" font-weight="normal" font-style="normal" fill="#141414" stroke="#141414" stroke-width="0.22" ><tspan font-style="italic">p</tspan>=0.048</text>
<path d="M119.50 480.30 L119.50 478.30 Q119.50 477.30 120.50 477.30 L144.60 477.30 Q145.60 477.30 145.60 478.30 L145.60 480.30" stroke="#141414" stroke-width="1.2" fill="none" stroke-linejoin="miter"/>
<text transform="translate(132.50,473.50)" font-size="7.3" text-anchor="middle" font-weight="normal" font-style="normal" fill="#141414" stroke="#141414" stroke-width="0.22" ><tspan font-style="italic">p</tspan>=0.034</text>
<text transform="translate(65.60,574.60)" font-size="7.9" text-anchor="middle" font-weight="normal" font-style="normal" fill="#141414" stroke="#141414" stroke-width="0.22" >CRT<tspan font-size="5.0" dy="-2.30" letter-spacing="0.2">Lo</tspan></text>
<text transform="translate(93.00,574.60)" font-size="7.9" text-anchor="middle" font-weight="normal" font-style="normal" fill="#141414" stroke="#141414" stroke-width="0.22" >CRT<tspan font-size="5.0" dy="-2.30" letter-spacing="0.2">Lo</tspan></text>
<text transform="translate(120.20,574.60)" font-size="7.9" text-anchor="middle" font-weight="normal" font-style="normal" fill="#141414" stroke="#141414" stroke-width="0.22" >CRT<tspan font-size="5.0" dy="-2.30" letter-spacing="0.2">Hi</tspan></text>
<text transform="translate(147.20,574.60)" font-size="7.9" text-anchor="middle" font-weight="normal" font-style="normal" fill="#141414" stroke="#141414" stroke-width="0.22" >CRT<tspan font-size="5.0" dy="-2.30" letter-spacing="0.2">Hi</tspan></text>
<line x1="51.80" y1="580.80" x2="106.00" y2="580.80" stroke="#141414" stroke-width="1.15" stroke-linecap="butt"/>
<line x1="51.80" y1="578.60" x2="51.80" y2="583.00" stroke="#141414" stroke-width="1.15" stroke-linecap="butt"/>
<line x1="106.00" y1="578.60" x2="106.00" y2="583.00" stroke="#141414" stroke-width="1.15" stroke-linecap="butt"/>
<line x1="107.60" y1="580.80" x2="161.40" y2="580.80" stroke="#141414" stroke-width="1.15" stroke-linecap="butt"/>
<line x1="107.60" y1="578.60" x2="107.60" y2="583.00" stroke="#141414" stroke-width="1.15" stroke-linecap="butt"/>
<line x1="161.40" y1="578.60" x2="161.40" y2="583.00" stroke="#141414" stroke-width="1.15" stroke-linecap="butt"/>
<text transform="translate(78.90,591.60) scale(0.87,1)" font-size="10.2" text-anchor="middle" font-weight="normal" font-style="normal" fill="#141414" stroke="#141414" stroke-width="0.22" >Prior</text>
<text transform="translate(133.90,591.60) scale(0.82,1)" font-size="10.2" text-anchor="middle" font-weight="normal" font-style="normal" fill="#141414" stroke="#141414" stroke-width="0.22" >Recovery</text>
<text transform="translate(264.30,456.20) scale(1.08,1)" font-size="9.2" text-anchor="middle" font-weight="bold" font-style="normal" fill="#111" stroke="#111" stroke-width="0.22" >IFN-<tspan font-weight="normal" stroke-width="0.1">γ</tspan><tspan font-size="6.44" dy="-1.84">+</tspan><tspan dy="1.84">CD4</tspan><tspan font-size="6.44" dy="-1.84">+</tspan></text>
<line x1="210.00" y1="460.50" x2="210.00" y2="562.52" stroke="#141414" stroke-width="1.45" stroke-linecap="butt"/>
<line x1="209.28" y1="561.80" x2="320.20" y2="561.80" stroke="#141414" stroke-width="1.45" stroke-linecap="butt"/>
<line x1="206.08" y1="463.80" x2="210.00" y2="463.80" stroke="#141414" stroke-width="1.25" stroke-linecap="butt"/>
<text transform="translate(204.80,466.79)" font-size="8.3" text-anchor="end" font-weight="normal" font-style="normal" fill="#141414" stroke="#141414" stroke-width="0.22" >25</text>
<line x1="206.08" y1="483.40" x2="210.00" y2="483.40" stroke="#141414" stroke-width="1.25" stroke-linecap="butt"/>
<text transform="translate(204.80,486.39)" font-size="8.3" text-anchor="end" font-weight="normal" font-style="normal" fill="#141414" stroke="#141414" stroke-width="0.22" >20</text>
<line x1="206.08" y1="503.00" x2="210.00" y2="503.00" stroke="#141414" stroke-width="1.25" stroke-linecap="butt"/>
<text transform="translate(204.80,505.99)" font-size="8.3" text-anchor="end" font-weight="normal" font-style="normal" fill="#141414" stroke="#141414" stroke-width="0.22" >15</text>
<line x1="206.08" y1="522.60" x2="210.00" y2="522.60" stroke="#141414" stroke-width="1.25" stroke-linecap="butt"/>
<text transform="translate(204.80,525.59)" font-size="8.3" text-anchor="end" font-weight="normal" font-style="normal" fill="#141414" stroke="#141414" stroke-width="0.22" >10</text>
<line x1="206.08" y1="542.20" x2="210.00" y2="542.20" stroke="#141414" stroke-width="1.25" stroke-linecap="butt"/>
<text transform="translate(204.80,545.19)" font-size="8.3" text-anchor="end" font-weight="normal" font-style="normal" fill="#141414" stroke="#141414" stroke-width="0.22" >5</text>
<line x1="206.08" y1="561.80" x2="210.00" y2="561.80" stroke="#141414" stroke-width="1.25" stroke-linecap="butt"/>
<text transform="translate(204.80,564.79)" font-size="8.3" text-anchor="end" font-weight="normal" font-style="normal" fill="#141414" stroke="#141414" stroke-width="0.22" >0</text>
<text transform="translate(188.40,512.80) rotate(-90) scale(1.025,1)" font-size="8.6" text-anchor="middle" font-weight="normal" font-style="normal" fill="#141414" stroke="#141414" stroke-width="0.22" >IFN-γ<tspan font-size="5.33" dy="-2.58">+</tspan><tspan dy="2.58">CD4</tspan><tspan font-size="5.33" dy="-2.58">+</tspan><tspan dy="2.58">CD45</tspan><tspan font-size="5.33" dy="-2.58">+</tspan><tspan dy="2.58"> cells (%)</tspan></text>
<line x1="224.00" y1="561.80" x2="224.00" y2="565.00" stroke="#141414" stroke-width="1.25" stroke-linecap="butt"/>
<line x1="251.50" y1="561.80" x2="251.50" y2="565.00" stroke="#141414" stroke-width="1.25" stroke-linecap="butt"/>
<line x1="278.40" y1="561.80" x2="278.40" y2="565.00" stroke="#141414" stroke-width="1.25" stroke-linecap="butt"/>
<line x1="305.30" y1="561.80" x2="305.30" y2="565.00" stroke="#141414" stroke-width="1.25" stroke-linecap="butt"/>
<line x1="224.00" y1="498.30" x2="224.00" y2="557.00" stroke="#141414" stroke-width="1.1" stroke-linecap="butt"/>
<line x1="219.50" y1="498.30" x2="228.50" y2="498.30" stroke="#141414" stroke-width="1.4500000000000002" stroke-linecap="butt"/>
<line x1="219.50" y1="557.00" x2="228.50" y2="557.00" stroke="#141414" stroke-width="1.4500000000000002" stroke-linecap="butt"/>
<rect x="215.00" y="528.80" width="18.00" height="25.70" fill="#bfbfbf"/>
<line x1="215.00" y1="548.30" x2="233.00" y2="548.30" stroke="#0a0a0a" stroke-width="1.4" stroke-linecap="butt"/>
<line x1="251.50" y1="475.50" x2="251.50" y2="549.30" stroke="#141414" stroke-width="1.1" stroke-linecap="butt"/>
<line x1="247.00" y1="475.50" x2="256.00" y2="475.50" stroke="#141414" stroke-width="1.4500000000000002" stroke-linecap="butt"/>
<line x1="247.00" y1="549.30" x2="256.00" y2="549.30" stroke="#141414" stroke-width="1.4500000000000002" stroke-linecap="butt"/>
<rect x="242.50" y="510.50" width="18.00" height="25.00" fill="#404040"/>
<line x1="242.50" y1="528.00" x2="260.50" y2="528.00" stroke="#0a0a0a" stroke-width="1.4" stroke-linecap="butt"/>
<line x1="278.40" y1="512.50" x2="278.40" y2="553.30" stroke="#141414" stroke-width="1.1" stroke-linecap="butt"/>
<line x1="273.85" y1="512.50" x2="282.95" y2="512.50" stroke="#141414" stroke-width="1.4500000000000002" stroke-linecap="butt"/>
<line x1="273.85" y1="553.30" x2="282.95" y2="553.30" stroke="#141414" stroke-width="1.4500000000000002" stroke-linecap="butt"/>
<rect x="269.30" y="523.00" width="18.20" height="22.00" fill="#bfbfbf"/>
<line x1="269.30" y1="536.80" x2="287.50" y2="536.80" stroke="#0a0a0a" stroke-width="1.4" stroke-linecap="butt"/>
<line x1="305.30" y1="504.30" x2="305.30" y2="544.30" stroke="#141414" stroke-width="1.1" stroke-linecap="butt"/>
<line x1="300.80" y1="504.30" x2="309.80" y2="504.30" stroke="#141414" stroke-width="1.4500000000000002" stroke-linecap="butt"/>
<line x1="300.80" y1="544.30" x2="309.80" y2="544.30" stroke="#141414" stroke-width="1.4500000000000002" stroke-linecap="butt"/>
<rect x="296.30" y="507.00" width="18.00" height="26.30" fill="#404040"/>
<line x1="296.30" y1="520.80" x2="314.30" y2="520.80" stroke="#0a0a0a" stroke-width="1.4" stroke-linecap="butt"/>
<path d="M223.30 472.30 L223.30 470.30 Q223.30 469.30 224.30 469.30 L250.30 469.30 Q251.30 469.30 251.30 470.30 L251.30 472.30" stroke="#141414" stroke-width="1.2" fill="none" stroke-linejoin="miter"/>
<text transform="translate(236.90,465.80)" font-size="7.3" text-anchor="middle" font-weight="normal" font-style="normal" fill="#141414" stroke="#141414" stroke-width="0.22" ><tspan font-style="italic">p</tspan>=0.034</text>
<path d="M278.00 496.00 L278.00 494.00 Q278.00 493.00 279.00 493.00 L304.00 493.00 Q305.00 493.00 305.00 494.00 L305.00 496.00" stroke="#141414" stroke-width="1.2" fill="none" stroke-linejoin="miter"/>
<text transform="translate(291.40,489.50)" font-size="7.3" text-anchor="middle" font-weight="normal" font-style="normal" fill="#141414" stroke="#141414" stroke-width="0.22" ><tspan font-style="italic">p</tspan>=0.035</text>
<text transform="translate(222.60,574.60)" font-size="7.9" text-anchor="middle" font-weight="normal" font-style="normal" fill="#141414" stroke="#141414" stroke-width="0.22" >CRT<tspan font-size="5.0" dy="-2.30" letter-spacing="0.2">Lo</tspan></text>
<text transform="translate(250.10,574.60)" font-size="7.9" text-anchor="middle" font-weight="normal" font-style="normal" fill="#141414" stroke="#141414" stroke-width="0.22" >CRT<tspan font-size="5.0" dy="-2.30" letter-spacing="0.2">Hi</tspan></text>
<text transform="translate(277.60,574.60)" font-size="7.9" text-anchor="middle" font-weight="normal" font-style="normal" fill="#141414" stroke="#141414" stroke-width="0.22" >CRT<tspan font-size="5.0" dy="-2.30" letter-spacing="0.2">Lo</tspan></text>
<text transform="translate(305.00,574.60)" font-size="7.9" text-anchor="middle" font-weight="normal" font-style="normal" fill="#141414" stroke="#141414" stroke-width="0.22" >CRT<tspan font-size="5.0" dy="-2.30" letter-spacing="0.2">Hi</tspan></text>
<line x1="210.00" y1="580.80" x2="264.40" y2="580.80" stroke="#141414" stroke-width="1.15" stroke-linecap="butt"/>
<line x1="210.00" y1="578.60" x2="210.00" y2="583.00" stroke="#141414" stroke-width="1.15" stroke-linecap="butt"/>
<line x1="264.40" y1="578.60" x2="264.40" y2="583.00" stroke="#141414" stroke-width="1.15" stroke-linecap="butt"/>
<line x1="266.20" y1="580.80" x2="320.00" y2="580.80" stroke="#141414" stroke-width="1.15" stroke-linecap="butt"/>
<line x1="266.20" y1="578.60" x2="266.20" y2="583.00" stroke="#141414" stroke-width="1.15" stroke-linecap="butt"/>
<line x1="320.00" y1="578.60" x2="320.00" y2="583.00" stroke="#141414" stroke-width="1.15" stroke-linecap="butt"/>
<text transform="translate(236.90,591.60) scale(0.87,1)" font-size="10.2" text-anchor="middle" font-weight="normal" font-style="normal" fill="#141414" stroke="#141414" stroke-width="0.22" >Prior</text>
<text transform="translate(292.50,591.60) scale(0.82,1)" font-size="10.2" text-anchor="middle" font-weight="normal" font-style="normal" fill="#141414" stroke="#141414" stroke-width="0.22" >Recovery</text>
<path d="M83.10 661.50 L83.10 617.80 A43.70 43.70 0 0 1 83.86 705.19 Z" fill="#050505" stroke="#050505" stroke-width="0.3"/>
<path d="M83.10 661.50 L83.86 705.19 A43.70 43.70 0 0 1 81.96 705.19 Z" fill="#c2c2c2" stroke="#c2c2c2" stroke-width="0.3"/>
<path d="M83.10 661.50 L81.96 705.19 A43.70 43.70 0 0 1 79.29 617.97 Z" fill="#444444" stroke="#444444" stroke-width="0.3"/>
<path d="M83.10 661.50 L79.29 617.97 A43.70 43.70 0 0 1 83.10 617.80 Z" fill="#838383" stroke="#838383" stroke-width="0.3"/>
<path d="M176.50 661.50 L176.50 617.80 A43.70 43.70 0 0 1 206.30 629.54 Z" fill="#050505" stroke="#050505" stroke-width="0.3"/>
<path d="M176.50 661.50 L206.30 629.54 A43.70 43.70 0 0 1 184.09 704.54 Z" fill="#c2c2c2" stroke="#c2c2c2" stroke-width="0.3"/>
<path d="M176.50 661.50 L184.09 704.54 A43.70 43.70 0 0 1 158.73 621.58 Z" fill="#444444" stroke="#444444" stroke-width="0.3"/>
<path d="M176.50 661.50 L158.73 621.58 A43.70 43.70 0 0 1 176.50 617.80 Z" fill="#838383" stroke="#838383" stroke-width="0.3"/>
<path d="M300.90 660.50 L300.90 616.00 A44.50 44.50 0 1 1 289.38 703.48 Z" fill="#050505" stroke="#050505" stroke-width="0.3"/>
<path d="M300.90 660.50 L289.38 703.48 A44.50 44.50 0 0 1 288.26 703.17 Z" fill="#c2c2c2" stroke="#c2c2c2" stroke-width="0.3"/>
<path d="M300.90 660.50 L288.26 703.17 A44.50 44.50 0 0 1 291.65 616.97 Z" fill="#444444" stroke="#444444" stroke-width="0.3"/>
<path d="M300.90 660.50 L291.65 616.97 A44.50 44.50 0 0 1 300.90 616.00 Z" fill="#838383" stroke="#838383" stroke-width="0.3"/>
<path d="M395.80 660.30 L395.80 615.80 A44.50 44.50 0 0 1 434.34 638.05 Z" fill="#050505" stroke="#050505" stroke-width="0.3"/>
<path d="M395.80 660.30 L434.34 638.05 A44.50 44.50 0 0 1 409.18 702.74 Z" fill="#c2c2c2" stroke="#c2c2c2" stroke-width="0.3"/>
<path d="M395.80 660.30 L409.18 702.74 A44.50 44.50 0 0 1 364.89 628.29 Z" fill="#444444" stroke="#444444" stroke-width="0.3"/>
<path d="M395.80 660.30 L364.89 628.29 A44.50 44.50 0 0 1 395.80 615.80 Z" fill="#838383" stroke="#838383" stroke-width="0.3"/>
<text transform="translate(83.60,613.30)" font-size="10.3" text-anchor="middle" font-weight="normal" font-style="normal" fill="#141414" stroke="#141414" stroke-width="0.22" >CRT<tspan font-size="6.8" dy="-4.12" letter-spacing="0.5">Lo</tspan></text>
<text transform="translate(176.20,613.30)" font-size="10.3" text-anchor="middle" font-weight="normal" font-style="normal" fill="#141414" stroke="#141414" stroke-width="0.22" >CRT<tspan font-size="6.8" dy="-4.12" letter-spacing="0.5">Hi</tspan></text>
<text transform="translate(300.40,610.60)" font-size="10.3" text-anchor="middle" font-weight="normal" font-style="normal" fill="#141414" stroke="#141414" stroke-width="0.22" >CRT<tspan font-size="6.8" dy="-4.12" letter-spacing="0.5">Lo</tspan></text>
<text transform="translate(396.40,610.60)" font-size="10.3" text-anchor="middle" font-weight="normal" font-style="normal" fill="#141414" stroke="#141414" stroke-width="0.22" >CRT<tspan font-size="6.8" dy="-4.12" letter-spacing="0.5">Hi</tspan></text>
<text transform="translate(14.30,664.20)" font-size="9.8" text-anchor="start" font-weight="normal" font-style="normal" fill="#141414" stroke="#141414" stroke-width="0.22" >Prior</text>
<text transform="translate(232.80,663.00)" font-size="9.8" text-anchor="start" font-weight="normal" font-style="normal" fill="#141414" stroke="#141414" stroke-width="0.22" >Post</text>
<rect x="43.50" y="713.90" width="8.70" height="3.60" fill="#c2c2c2"/>
<text transform="translate(55.50,718.30)" font-size="7.4" text-anchor="start" font-weight="normal" font-style="normal" fill="#141414" stroke="#141414" stroke-width="0.22" ><tspan font-style="italic">p</tspan>&lt;0.0001</text>
<rect x="93.50" y="713.90" width="9.30" height="3.60" fill="#050505"/>
<text transform="translate(106.10,718.30)" font-size="7.4" text-anchor="start" font-weight="normal" font-style="normal" fill="#141414" stroke="#141414" stroke-width="0.22" ><tspan font-style="italic">p</tspan>=0.0028</text>
<rect x="144.20" y="713.90" width="9.30" height="3.60" fill="#838383"/>
<text transform="translate(156.90,718.30)" font-size="7.4" text-anchor="start" font-weight="normal" font-style="normal" fill="#141414" stroke="#141414" stroke-width="0.22" ><tspan font-style="italic">p</tspan>=0.0338</text>
<rect x="195.00" y="713.90" width="9.30" height="3.60" fill="#444444"/>
<text transform="translate(207.70,718.30)" font-size="7.4" text-anchor="start" font-weight="normal" font-style="normal" fill="#141414" stroke="#141414" stroke-width="0.22" >NS</text>
<rect x="273.20" y="713.90" width="8.40" height="3.60" fill="#c2c2c2"/>
<text transform="translate(284.40,718.30)" font-size="7.4" text-anchor="start" font-weight="normal" font-style="normal" fill="#141414" stroke="#141414" stroke-width="0.22" ><tspan font-style="italic">p</tspan>&lt;0.0001</text>
<rect x="323.00" y="713.90" width="8.80" height="3.60" fill="#050505"/>
<text transform="translate(334.60,718.30)" font-size="7.4" text-anchor="start" font-weight="normal" font-style="normal" fill="#141414" stroke="#141414" stroke-width="0.22" ><tspan font-style="italic">p</tspan>=0.0128</text>
<rect x="373.50" y="713.90" width="8.70" height="3.60" fill="#838383"/>
<text transform="translate(385.30,718.30)" font-size="7.4" text-anchor="start" font-weight="normal" font-style="normal" fill="#141414" stroke="#141414" stroke-width="0.22" >NS</text>
<rect x="401.90" y="713.90" width="8.70" height="3.60" fill="#444444"/>
<text transform="translate(413.00,718.30)" font-size="7.4" text-anchor="start" font-weight="normal" font-style="normal" fill="#141414" stroke="#141414" stroke-width="0.22" >NS</text>
<rect x="445.10" y="632.70" width="9.20" height="3.40" fill="#c2c2c2"/>
<text transform="translate(457.10,637.10)" font-size="7.5" text-anchor="start" font-weight="normal" font-style="normal" fill="#141414" stroke="#141414" stroke-width="0.22" >Naive</text>
<rect x="445.10" y="644.10" width="9.20" height="3.40" fill="#050505"/>
<text transform="translate(457.10,648.50)" font-size="7.5" text-anchor="start" font-weight="normal" font-style="normal" fill="#141414" stroke="#141414" stroke-width="0.22" >Terminally</text>
<rect x="445.10" y="662.90" width="9.20" height="3.40" fill="#838383"/>
<text transform="translate(457.10,667.30)" font-size="7.5" text-anchor="start" font-weight="normal" font-style="normal" fill="#141414" stroke="#141414" stroke-width="0.22" >Central memory</text>
<rect x="445.10" y="674.40" width="9.20" height="3.40" fill="#444444"/>
<text transform="translate(457.10,678.80)" font-size="7.5" text-anchor="start" font-weight="normal" font-style="normal" fill="#141414" stroke="#141414" stroke-width="0.22" >Effector memory</text>
<text transform="translate(457.10,657.50)" font-size="7.5" text-anchor="start" font-weight="normal" font-style="normal" fill="#141414" stroke="#141414" stroke-width="0.22" >differentiated</text>
</g>
<rect x="0" y="0" width="1.25" height="727" fill="#000"/>
<rect x="0" y="0" width="520" height="1.05" fill="#000"/>
<rect x="518.95" y="0" width="1.05" height="727" fill="#000"/>
<rect x="0" y="725.7" width="520" height="1.3" fill="#000"/>
</svg>
</body></html>
